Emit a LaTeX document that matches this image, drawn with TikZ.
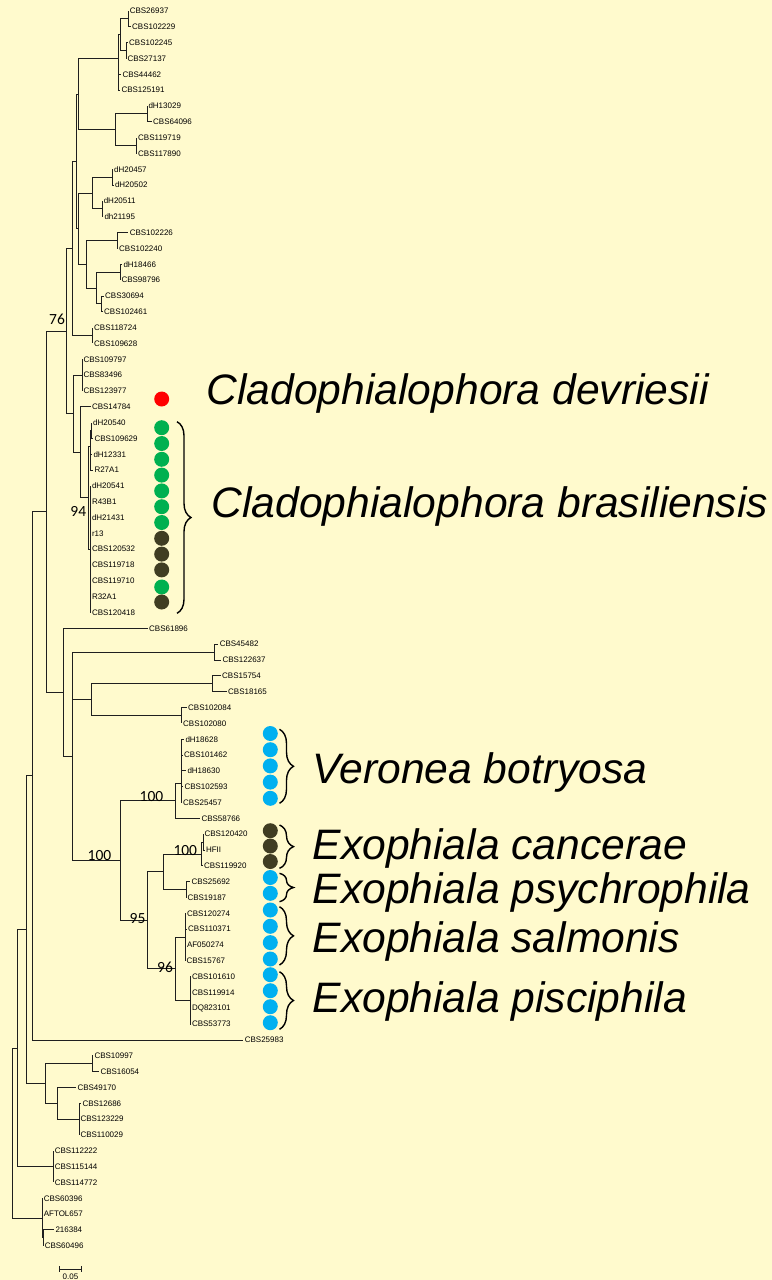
\documentclass[tikz,border=0pt]{standalone}
\usepackage{fontspec}
\setmainfont{Liberation Sans}
\newfontfamily\bsfont{Carlito}
\usetikzlibrary{decorations.pathreplacing}
\definecolor{bgc}{RGB}{255,250,205}
\definecolor{dred}{RGB}{255,0,0}
\definecolor{dgreen}{RGB}{0,176,80}
\definecolor{ddark}{RGB}{64,61,34}
\definecolor{dblue}{RGB}{0,176,240}
\begin{document}
\begin{tikzpicture}[x=1bp,y=-1bp,
  leaf/.style={anchor=west,inner sep=1.5bp,outer sep=0pt,font=\fontsize{8bp}{9bp}\selectfont},
  br/.style={line width=0.85bp,draw=black!88},
  boot/.style={inner sep=0pt,font=\bsfont\fontsize{15.5bp}{17bp}\selectfont},
  species/.style={anchor=base west,inner sep=0pt,font=\itshape\fontsize{42.6bp}{48bp}\selectfont},
  dot/.style={circle,fill=#1,inner sep=0pt,minimum size=15bp},
  curly/.style={decorate,decoration={brace,amplitude=14bp},line width=1.4bp}]
\useasboundingbox (0,0) rectangle (772,1280);
\fill[bgc] (0,0) rectangle (772,1280);
% leaves
\foreach \n/\x/\y/\t in {
 l0/128.3/11.0/CBS26937, l1/130.7/26.8/CBS102229, l2/127.7/42.7/CBS102245, l3/126.0/58.5/CBS27137,
 l4/121.0/74.3/CBS44462, l5/120.0/90.2/CBS125191, l6/147.0/106.0/dH13029, l7/151.7/121.8/CBS64096,
 l8/136.7/137.6/CBS119719, l9/136.7/153.5/CBS117890, l10/112.7/169.3/dH20457, l11/113.5/185.1/dH20502,
 l12/102.3/201.0/dH20511, l13/103.0/216.8/dh21195, l14/128.3/232.6/CBS102226, l15/117.7/248.5/CBS102240,
 l16/122.0/264.3/dH18466, l17/120.0/280.1/CBS98796, l18/103.7/296.0/CBS30694, l19/102.7/311.8/CBS102461,
 l20/92.7/327.6/CBS118724, l21/92.7/343.4/CBS109628, l22/82.0/359.3/CBS109797, l23/82.0/375.1/CBS83496,
 l24/82.0/390.9/CBS123977, l25/90.5/406.8/CBS14784, l26/91.7/422.6/dH20540, l27/93.0/438.4/CBS109629,
 l28/92.0/454.2/dH12331, l29/93.0/470.1/R27A1, l30/90.5/485.9/dH20541, l31/90.5/501.7/R43B1,
 l32/90.5/517.6/dH21431, l33/90.5/533.4/r13, l34/90.5/549.2/CBS120532, l35/90.5/565.1/CBS119718,
 l36/90.5/580.9/CBS119710, l37/90.5/596.7/R32A1, l38/90.5/612.5/CBS120418, l39/147.7/628.4/CBS61896,
 l40/218.3/644.2/CBS45482, l41/221.0/660.0/CBS122637, l42/220.7/675.9/CBS15754, l43/226.7/691.7/CBS18165,
 l44/186.7/707.5/CBS102084, l45/181.7/723.4/CBS102080, l46/184.0/739.2/dH18628, l47/182.7/755.0/CBS101462,
 l48/186.0/770.8/dH18630, l49/183.0/786.7/CBS102593, l50/181.7/802.5/CBS25457, l51/200.0/818.3/CBS58766,
 l52/203.0/834.2/CBS120420, l53/204.5/850.0/HFII, l54/202.5/865.8/CBS119920, l55/190.0/881.7/CBS25692,
 l56/186.0/897.5/CBS19187, l57/185.5/913.3/CBS120274, l58/186.7/929.1/CBS110371, l59/185.5/945.0/AF050274,
 l60/185.0/960.8/CBS15767, l61/190.5/976.6/CBS101610, l62/190.5/992.5/CBS119914, l63/190.5/1008.3/DQ823101,
 l64/190.5/1024.1/CBS53773, l65/243.3/1040.0/CBS25983, l66/93.0/1055.8/CBS10997, l67/99.0/1071.6/CBS16054,
 l68/76.0/1087.4/CBS49170, l69/81.0/1103.3/CBS12686, l70/79.0/1119.1/CBS123229, l71/79.0/1134.9/CBS110029,
 l72/53.3/1150.8/CBS112222, l73/53.3/1166.6/CBS115144, l74/53.3/1182.4/CBS114772, l75/42.3/1198.3/CBS60396,
 l76/42.3/1214.1/AFTOL657, l77/54.0/1229.9/216384, l78/43.3/1245.7/CBS60496}
 {\node[leaf] (\n) at (\x,\y) {\t};}
% internal nodes
\foreach \n/\x/\y in {
 nA/128.3/18.9, nB2/126.0/50.6, nB/120.7/34.8, nD/118.8/82.2, nC/118.3/58.5,
 nE/147.0/113.9, nF/136.7/145.5, nG/115.3/129.7, nH/78.3/94.1,
 nK1/112.7/177.2, nK2/102.3/208.9, nK/92.3/193.0, nM/117.7/240.5, nO/120.0/272.2,
 nP/101.7/303.9, nN/96.7/288.0, nL/86.7/264.3, nJ/78.3/228.6, nI/76.0/161.4,
 nR/92.7/335.5, nQ/72.3/248.4, nU/82.0/375.1, nG1a/91.7/430.5, nG1b/90.7/462.2,
 nG1/90.0/446.3, nG2/90.5/549.2, nW/88.3/497.7, nV/80.7/452.3, nT/73.5/413.7, nS/66.7/331.0,
 nAB1/214.3/652.1, nAB2a/212.3/683.8, nAB2b/181.7/715.5, nAB2/91.7/699.6,
 nAF/181.7/783.5, nAD/175.7/800.9, nAI1/203.0/842.1, nAI/201.3/854.0, nAJ/186.0/889.6,
 nAG/163.3/871.8, nAK/185.0/937.1, nAL/190.0/1000.4, nAH/175.7/968.7, nAE/147.0/920.3,
 nAC/120.7/860.6, nAA/72.3/756.4, nZ/63.3/692.4, nY/46.7/511.7, nBA/32.3/775.9,
 nBC1/92.3/1063.7, nBE/79.0/1119.1, nBD/57.3/1103.3, nBC/45.7/1083.5, nBB/26.7/929.7,
 nBX/53.3/1166.6, nBF/17.3/1048.2, nBH2/43.3/1237.8, nBH/42.3/1218.0, root/12.3/1133.1}
 {\coordinate (\n) at (\x,\y);}
% branches
\foreach \p/\c in {
 nA/l0.west, nA/l1.west, nB2/l2.west, nB2/l3.west, nB/nA, nB/nB2, nD/l4.west, nD/l5.west,
 nC/nB, nC/nD, nE/l6.west, nE/l7.west, nF/l8.west, nF/l9.west, nG/nE, nG/nF, nH/nC, nH/nG,
 nK1/l10.west, nK1/l11.west, nK2/l12.west, nK2/l13.west, nK/nK1, nK/nK2,
 nM/l14.west, nM/l15.west, nO/l16.west, nO/l17.west, nP/l18.west, nP/l19.west, nN/nO, nN/nP,
 nL/nM, nL/nN, nJ/nK, nJ/nL, nI/nH, nI/nJ, nR/l20.west, nR/l21.west, nQ/nI, nQ/nR,
 nU/l22.west, nU/l23.west, nU/l24.west, nG1a/l26.west, nG1a/l27.west, nG1b/l28.west, nG1b/l29.west,
 nG1/nG1a, nG1/nG1b, nG2/l30.west, nG2/l31.west, nG2/l32.west, nG2/l33.west, nG2/l34.west,
 nG2/l35.west, nG2/l36.west, nG2/l37.west, nG2/l38.west, nW/nG1, nW/nG2, nV/l25.west, nV/nW,
 nT/nU, nT/nV, nS/nQ, nS/nT,
 nAB1/l40.west, nAB1/l41.west, nAB2a/l42.west, nAB2a/l43.west, nAB2b/l44.west, nAB2b/l45.west,
 nAB2/nAB2a, nAB2/nAB2b, nAF/l46.west, nAF/l47.west, nAF/l48.west, nAF/l49.west, nAF/l50.west,
 nAD/nAF, nAD/l51.west, nAI1/l52.west, nAI1/l53.west, nAI/nAI1, nAI/l54.west,
 nAJ/l55.west, nAJ/l56.west, nAG/nAI, nAG/nAJ, nAK/l57.west, nAK/l58.west, nAK/l59.west, nAK/l60.west,
 nAL/l61.west, nAL/l62.west, nAL/l63.west, nAL/l64.west, nAH/nAK, nAH/nAL, nAE/nAG, nAE/nAH,
 nAC/nAD, nAC/nAE, nAA/nAB1, nAA/nAB2, nAA/nAC, nZ/l39.west, nZ/nAA, nY/nS, nY/nZ,
 nBA/nY, nBA/l65.west, nBC1/l66.west, nBC1/l67.west, nBE/l69.west, nBE/l70.west, nBE/l71.west,
 nBD/l68.west, nBD/nBE, nBC/nBC1, nBC/nBD, nBB/nBA, nBB/nBC, nBX/l72.west, nBX/l73.west, nBX/l74.west,
 nBF/nBB, nBF/nBX, nBH2/l77.west, nBH2/l78.west, nBH/l75.west, nBH/l76.west, nBH/nBH2,
 root/nBF, root/nBH}
 {\draw[br] (\p) |- (\c);}
% bootstrap values
\node[boot] (b76) at (57,319) {76};
\node[boot] (b94) at (78.3,511.3) {94};
\node[boot] (b100a) at (151.5,796.7) {100};
\node[boot] (b100b) at (99.5,856) {100};
\node[boot] (b100c) at (185.3,851) {100};
\node[boot] (b95) at (137.5,919) {95};
\node[boot] (b96) at (165,967.5) {96};
% dots
\node[dot=dred] (d0) at (161.7,399) {};
\foreach \y [count=\i] in {427.7,443.5,459.3,475.1,490.9,506.7,522.5,587.0}
 {\node[dot=dgreen] (dg\i) at (161.7,\y) {};}
\foreach \y [count=\i] in {538.3,554.1,569.9,602.0}
 {\node[dot=ddark] (dk\i) at (161.7,\y) {};}
\foreach \y [count=\i] in {733.5,749.7,765.9,782.1,798.3,877.5,893.3,910.0,926.3,942.6,959.0,974.7,990.7,1006.7,1022.7}
 {\node[dot=dblue] (db\i) at (270.3,\y) {};}
\foreach \y [count=\i] in {830.7,846.0,861.5}
 {\node[dot=ddark] (dc\i) at (270.3,\y) {};}
% braces
\draw[curly] (177,421.7) -- (177,613.3);
\draw[curly] (279.5,729.3) -- (279.5,803.3);
\draw[curly] (279.5,825.0) -- (279.5,868.3);
\draw[curly] (279.5,873.3) -- (279.5,901.7);
\draw[curly] (279.5,906.7) -- (279.5,965.0);
\draw[curly] (279.5,971.7) -- (279.5,1029.3);
% species names
\node[species] (s1) at (206.5,404) {Cladophialophora devriesii};
\node[species] (s2) at (211.5,517) {Cladophialophora brasiliensis};
\node[species] (s3) at (312.5,783) {Veronea botryosa};
\node[species] (s4) at (312.5,859) {Exophiala cancerae};
\node[species] (s5) at (312.5,903) {Exophiala psychrophila};
\node[species] (s6) at (312.5,952) {Exophiala salmonis};
\node[species] (s7) at (312.5,1012) {Exophiala pisciphila};
% scale bar
\coordinate (sb1) at (59.3,1269.3);
\coordinate (sb2) at (81.7,1269.3);
\draw[br] (sb1) -- (sb2);
\draw[br] ([yshift=3bp]sb1) -- ([yshift=-3bp]sb1);
\draw[br] ([yshift=3bp]sb2) -- ([yshift=-3bp]sb2);
\node[inner sep=0pt,font=\fontsize{8bp}{9bp}\selectfont] (sbl) at (70.5,1277) {0.05};
\end{tikzpicture}
\end{document}
